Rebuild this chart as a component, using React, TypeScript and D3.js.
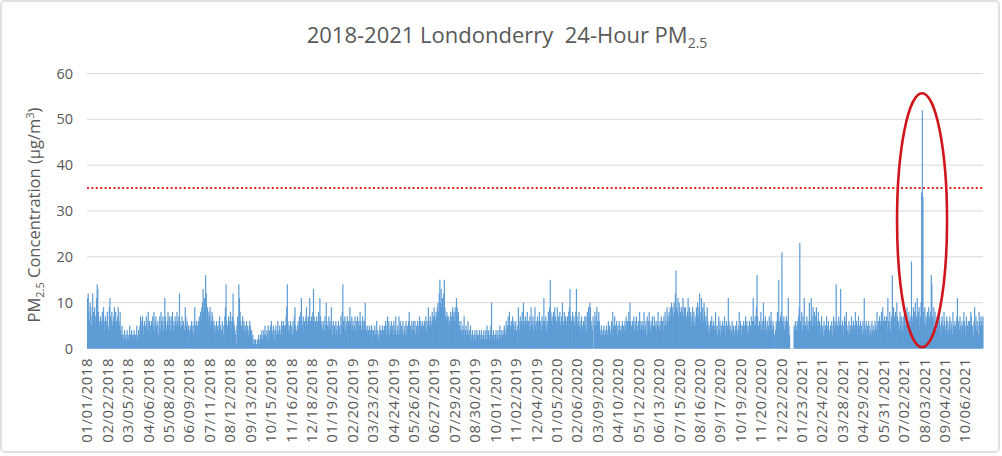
import React from "react";
import * as d3 from "d3";

// Daily 24-hour PM2.5 (µg/m³), in consecutive segments
const pmPart1 = [
  11,12,8,6,10,9,5,7,12,8, 6,9,7,5,11,14,13,8,6,5, 7,4,6,8,5,9,6,4,7,5,
  6,8,5,4,9,11,7,6,8,5, 6,7,9,5,8,6,4,7,9,6, 5,8,4,3,5,3,2,3,4,2,
  3,2,4,3,2,3,5,3,2,4, 3,2,3,4,2,3,3,5,2,3, 4,3,5,7,6,4,7,5,3,6,
  4,5,7,6,4,8,5,6,3,5, 6,4,7,5,8,4,6,7,5,4, 6,3,5,7,4,8,6,5,7,4,
  6,11,7,5,4,6,8,5,7,6, 4,7,5,8,6,4,5,7,6,5, 8,6,5,7,12,6,4,5,7,5,
  6,5,4,
];
const pmPart2 = [
  9,7,5,6,4,5,0,
  4,5,3,6,4,5,3,6,9,5, 4,6,5,3,6,7,5,8,6,9, 10,13,8,11,9,16,12,7,9,6,
  8,7,9,5,6,8,7,5,6,4, 5,3,6,4,5,4,6,7,5,3, 4,6,5,3,5,7,9,14,6,5,
  4,7,6,5,8,6,4,7,12,6, 5,4,3,1,5,7,6,14,11,8, 6,5,4,7,5,6,4,5,3,6,
  4,5,3,4,6,5,3,4,2,3, 1,2,1,2,0,1,2,1,3,1, 2,3,2,4,2,3,4,3,5,3,
  2,4,3,5,2,4,3,5,6,4, 3,5,4,2,4,5,3,4,6,3, 4,5,3,4,6,5,3,6,4,5,
];
const pmPart3 = [
  5,7,9,14,6,4,5,3,6,4, 5,3,6,4,7,9,5,4,3,5, 6,4,7,5,8,11,6,5,7,4,
  6,5,7,9,6,5,7,4,11,6, 5,7,6,8,13,7,5,6,4,7, 6,5,8,6,11,7,5,6,4,5,
  6,4,7,5,10,6,5,4,7,5, 6,4,9,5,3,6,4,5,3,6, 4,5,3,6,4,5,3,7,5,8,
  14,6,5,7,4,6,5,7,4,6, 5,9,6,4,7,5,6,4,5,7, 4,6,5,7,4,6,5,8,6,4,
  5,7,4,6,6,10,5,4,3,5, 4,3,5,4,3,5,4,2,4,3, 5,3,4,6,3,4,2,3,5,4,
  3,4,5,3,4,5,
];
const pmPart4 = [
  4,6,3,5,7,4,6,3,5,4, 6,4,5,3,6,4,5,7,3,4, 5,3,7,4,6,3,5,4,6,3,
  4,5,3,6,4,5,3,6,8,4, 5,3,6,4,5,6,4,6,3,5, 4,6,5,3,7,4,6,5,4,6,
  5,4,6,5,7,4,6,5,9,6, 5,7,6,5,8,6,7,9,7,6, 8,7,9,10,8,12,15,10,13,9,
  11,8,12,15,9,7,6,8,7,5, 7,6,5,8,7,6,9,7,8,6, 9,8,11,9,7,8,6,5,4,6,
  4,3,5,4,7,3,4,5,3,4, 6,3,4,3,5,3,2,4,3,2, 3,4,2,3,4,3,2,3,4,3,
  2,4,3,2,3,4,2,
];
const pmPart5 = [
  3,4,2,5,3,4,3,2,4,5, 10,3,2,4,3,2,3,4,2,3, 4,2,3,5,3,4,2,3,4,3,
  5,4,3,6,4,5,7,5,8,4, 5,6,4,7,5,6,4,5,6,4, 1,5,9,6,4,7,5,6,8,5,
  10,6,5,7,4,6,8,5,6,4, 7,5,9,6,5,7,4,6,9,5, 6,4,7,5,6,8,5,6,4,7,
  5,6,11,6,5,7,4,6,5,8, 6,9,15,8,6,7,5,8,6,9, 7,5,6,9,5,7,6,8,5,6,
  7,10,6,5,8,6,7,5,6,7, 5,8,9,13,7,6,5,8,6,7, 5,6,8,13,7,5,6,8,5,4,
  6,7,5,4,6,5,7,
];
const pmPart6 = [
  5,7,4,8,6,9,7,10,9,6, 5,4,7,0,6,8,5,7,9,6, 5,8,6,4,3,5,4,3,4,5,
  3,4,3,5,4,3,6,4,5,3, 4,6,3,8,5,4,7,5,4,6, 3,5,4,6,5,4,3,5,6,4,
  5,4,6,5,7,4,6,5,8,6, 10,6,5,4,6,5,7,4,6,5, 7,5,4,6,5,8,4,6,5,4,
  6,5,8,4,5,6,3,7,4,6, 8,5,4,6,5,7,4,5,7,6, 5,4,6,5,8,5,4,6,5,7,
  5,6,4,7,5,8,6,5,9,7, 6,8,7,9,6,10,8,9,7,10, 8,12,17,9,8,11,7,10,9,8,
  7,9,8,11,7,9,8,
];
const pmPart7 = [
  9,7,6,8,11,7,9,6,8,5, 7,9,6,8,5,7,6,9,8,10, 7,9,12,6,8,11,7,9,6,10,
  8,6,7,5,9,6,4,5,3,6, 4,7,5,3,6,4,5,8,4,5, 3,5,7,4,6,3,5,4,6,5,
  4,7,5,3,6,4,5,11,6,4, 5,3,4,6,3,5,4,3,5,4, 6,3,4,5,8,4,6,5,3,5,
  4,6,5,4,7,5,6,4,5,3, 6,4,5,7,4,6,11,6,5,7, 5,9,16,7,5,4,6,5,8,4,
  6,5,10,6,4,7,5,4,6,3, 5,7,4,6,8,5,4,6,5,3, 0,4,6,5,8,4,15,6,5,7,
  8,21,6,5,7,4,6,
];
const pmPart8 = [
  5,7,4,6,11,5,3,0,0,0, 0,0,0,5,4,6,5,4,6,5, 7,9,23,6,5,8,4,7,5,11,
  6,5,4,7,5,6,4,10,5,6, 11,7,5,9,6,8,5,7,9,6, 5,8,4,6,5,3,7,4,5,3,
  6,4,5,3,7,4,5,6,3,4, 5,4,6,3,5,7,4,6,5,14, 6,5,4,7,5,6,13,5,4,6,
  3,5,7,4,6,8,5,4,3,6, 4,5,3,7,5,4,6,3,5,8, 4,6,5,3,7,4,5,6,4,5,
  3,6,4,11,5,4,6,3,5,4, 6,3,5,4,3,6,4,5,3,4, 6,5,4,8,5,6,4,7,5,6,
  8,5,9,6,5,7,6,
];
const pmPart9 = [
  5,7,4,11,6,5,8,4,6,7, 16,6,9,7,5,8,6,10,7,5, 6,4,8,5,7,6,4,7,5,8,
  6,5,7,9,6,4,8,6,5,7, 19,7,6,9,5,8,10,6,7,11, 6,8,9,5,7,10,34,52,33,8,
  6,9,5,7,6,8,5,9,7,6, 8,16,14,7,6,9,5,8,6,4, 7,5,6,4,8,5,3,6,7,4,
  5,8,6,4,5,7,3,6,4,5, 7,4,6,5,3,8,5,4,6,5, 4,7,11,5,6,4,7,5,3,6,
  5,4,8,6,5,3,7,4,5,6, 4,6,5,8,7,4,5,3,6,9, 5,7,4,6,5,3,8,6,5,7,
  6,5,7,
];

const tickLabels = [
  "01/01/2018","02/02/2018","03/05/2018","04/06/2018","05/08/2018","06/09/2018",
  "07/11/2018","08/12/2018","09/13/2018","10/15/2018","11/16/2018","12/18/2018",
  "01/19/2019","02/20/2019","03/23/2019","04/24/2019","05/26/2019","06/27/2019",
  "07/29/2019","08/30/2019","10/01/2019","11/02/2019","12/04/2019","01/05/2020",
  "02/06/2020","03/09/2020","04/10/2020","05/12/2020","06/13/2020","07/15/2020",
  "08/16/2020","09/17/2020","10/19/2020","11/20/2020","12/22/2020","01/23/2021",
  "02/24/2021","03/28/2021","04/29/2021","05/31/2021","07/02/2021","08/03/2021",
  "09/04/2021","10/06/2021",
];
const tickEvery = 32;
const yTicks = [0, 10, 20, 30, 40, 50, 60];
const standard = 35;

const values: number[] = [
  ...pmPart1, ...pmPart2, ...pmPart3, ...pmPart4, ...pmPart5,
  ...pmPart6, ...pmPart7, ...pmPart8, ...pmPart9,
];

const W = 1002;
const H = 456;
const left = 87;
const right = 983;
const top = 73.5;
const bottom = 348.5;
const textColor = "#595959";
const font = "'Open Sans', sans-serif";

export default function App() {
  const x = d3
    .scaleBand<number>()
    .domain(d3.range(values.length))
    .range([left, right])
    .padding(0);
  const y = d3.scaleLinear().domain([0, 60]).range([bottom, top]);
  const bw = x.bandwidth();

  const peakIdx = d3.maxIndex(values);
  const ecx = (x(peakIdx) as number) + bw / 2;
  const ecy = y(28);
  const ery = y(0) - y(27.7);

  return (
    <svg
      width={W}
      height={H}
      style={{ position: "absolute", left: 0, top: 0, display: "block", background: "#fff" }}
    >
      <rect x={1} y={1} width={W - 4} height={H - 5} rx={4} fill="#fff" stroke="#dde2dd" strokeWidth={2} />
      <text
        x={507}
        y={43}
        textAnchor="middle"
        fontFamily={font}
        fontSize={22}
        fill={textColor}
        style={{ whiteSpace: "pre" }}
      >
        {"2018-2021 Londonderry  24-Hour PM"}
        <tspan fontSize={14} dy={5}>2.5</tspan>
      </text>

      {yTicks.map((t) => (
        <g key={t}>
          <line x1={left} x2={right} y1={y(t)} y2={y(t)} stroke="#d9d9d9" strokeWidth={1} />
          <text
            x={73}
            y={y(t)}
            dy="0.35em"
            textAnchor="end"
            fontFamily={font}
            fontSize={14.5}
            fill={textColor}
          >
            {t}
          </text>
        </g>
      ))}

      <text
        transform={`translate(40,215) rotate(-90)`}
        textAnchor="middle"
        fontFamily={font}
        fontSize={16.5}
        fill={textColor}
      >
        PM<tspan fontSize={11} dy={4}>2.5</tspan>
        <tspan dy={-4}> Concentration (µg/m</tspan>
        <tspan fontSize={11} dy={-6}>3</tspan>
        <tspan dy={6}>)</tspan>
      </text>

      <g fill="#5b9bd5">
        {values.map((v, i) => (
          <rect
            key={i}
            x={x(i) as number}
            y={y(v)}
            width={bw + 0.55}
            height={bottom - y(v)}
          />
        ))}
      </g>

      <line
        x1={left}
        x2={right}
        y1={y(standard)}
        y2={y(standard)}
        stroke="#e0282b"
        strokeWidth={2}
        strokeDasharray="2,2.4"
      />

      {tickLabels.map((lab, k) => {
        const cx = (x(k * tickEvery) as number) + bw / 2 + 5;
        return (
          <text
            key={lab}
            transform={`translate(${cx},358) rotate(-90)`}
            textAnchor="end"
            fontFamily={font}
            fontSize={15}
            letterSpacing={0.5}
            fill={textColor}
          >
            {lab}
          </text>
        );
      })}

      <ellipse
        cx={ecx}
        cy={ecy}
        rx={25}
        ry={ery}
        fill="none"
        stroke="#d0161c"
        strokeWidth={2.6}
      />
    </svg>
  );
}
